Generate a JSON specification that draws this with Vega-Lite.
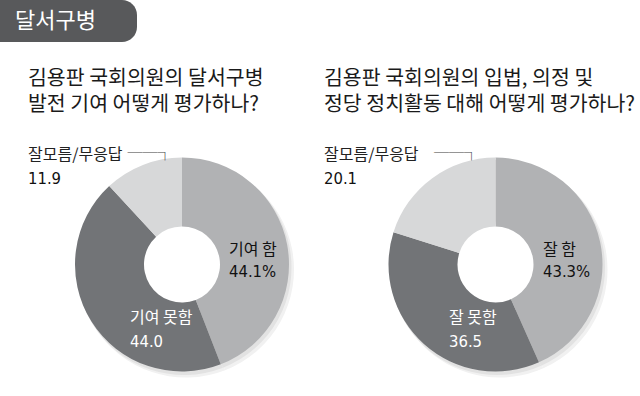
{
  "$schema": "https://vega.github.io/schema/vega-lite/v6.json",
  "padding": 0,
  "background": "white",
  "bounds": "flush",
  "spacing": 91,
  "config": {"view": {"stroke": null}, "font": "Noto Sans CJK KR"},
  "datasets": {
    "left": [
      {"cat": "기여 함", "value": 44.1, "order": 1, "valueText": "44.1%"},
      {"cat": "기여 못함", "value": 44.0, "order": 2, "valueText": "44.0"},
      {"cat": "잘모름/무응답", "value": 11.9, "order": 3, "valueText": "11.9"}
    ],
    "right": [
      {"cat": "잘 함", "value": 43.3, "order": 1, "valueText": "43.3%"},
      {"cat": "잘 못함", "value": 36.5, "order": 2, "valueText": "36.5"},
      {"cat": "잘모름/무응답", "value": 20.1, "order": 3, "valueText": "20.1"}
    ],
    "header": [{"t": "달서구병"}]
  },
  "vconcat": [
    {
      "width": 137,
      "height": 42,
      "data": {"name": "header"},
      "layer": [
        {
          "mark": {"type": "rect", "color": "#58595b", "cornerRadiusTopRight": 15, "cornerRadiusBottomRight": 15},
          "encoding": {
            "x": {"value": 0},
            "x2": {"value": "width"},
            "y": {"value": 0},
            "y2": {"value": "height"}
          }
        },
        {
          "mark": {"type": "text", "align": "left", "baseline": "middle", "dx": -53.5, "dy": 0, "fontSize": 22, "color": "white", "font": "Noto Sans CJK KR"},
          "encoding": {"text": {"field": "t"}}
        }
      ]
    },
    {
      "bounds": "flush",
      "spacing": 0,
      "hconcat": [
        {
          "width": 364,
          "height": 263,
          "data": {"name": "left"},
          "title": {"text": ["김용판 국회의원의 달서구병", "발전 기여 어떻게 평가하나?"], "anchor": "start", "frame": "group", "dx": 28, "offset": -2, "fontSize": 20.5, "lineHeight": 26, "baseline": "bottom", "color": "#1a1a1a", "font": "Noto Sans CJK KR", "fontWeight": "normal"},
          "layer": [
            {
              "mark": {"type": "arc", "outerRadius": 108, "innerRadius": 46, "xOffset": 4, "yOffset": 5, "color": "#f1f1f1"},
              "encoding": {"theta": {"field": "value", "type": "quantitative", "stack": true}, "order": {"field": "order", "type": "quantitative"}}
            },
            {
              "mark": {"type": "arc", "outerRadius": 107.5, "innerRadius": 46, "xOffset": 2, "yOffset": 3, "color": "#e2e2e2"},
              "encoding": {"theta": {"field": "value", "type": "quantitative", "stack": true}, "order": {"field": "order", "type": "quantitative"}}
            },
            {
              "mark": {"type": "arc", "outerRadius": 107, "innerRadius": 38},
              "encoding": {
                "theta": {"field": "value", "type": "quantitative", "stack": true},
                "order": {"field": "order", "type": "quantitative"},
                "color": {"field": "order", "type": "nominal", "scale": {"domain": [1, 2, 3], "range": ["#b1b2b4", "#727477", "#d7d8d9"]}, "legend": null}
              }
            },
            {
              "transform": [{"filter": "datum.order === 1"}],
              "layer": [
                {"mark": {"type": "text", "dx": 47, "dy": -14.5, "align": "left", "baseline": "middle", "fontSize": 16, "color": "#111111", "font": "Noto Sans CJK KR"}, "encoding": {"text": {"field": "cat"}}},
                {"mark": {"type": "text", "dx": 47, "dy": 7, "align": "left", "baseline": "middle", "fontSize": 16.5, "color": "#111111", "font": "DejaVu Sans Condensed, Roboto"}, "encoding": {"text": {"field": "valueText"}}}
              ]
            },
            {
              "transform": [{"filter": "datum.order === 2"}],
              "layer": [
                {"mark": {"type": "text", "dx": -52, "dy": 53.5, "align": "left", "baseline": "middle", "fontSize": 16, "color": "white", "font": "Noto Sans CJK KR"}, "encoding": {"text": {"field": "cat"}}},
                {"mark": {"type": "text", "dx": -52, "dy": 77, "align": "left", "baseline": "middle", "fontSize": 16.5, "color": "white", "font": "DejaVu Sans Condensed, Roboto"}, "encoding": {"text": {"field": "valueText"}}}
              ]
            },
            {
              "transform": [{"filter": "datum.order === 3"}],
              "layer": [
                {"mark": {"type": "text", "dx": -154, "dy": -109.5, "align": "left", "baseline": "middle", "fontSize": 16, "color": "#222222", "font": "Noto Sans CJK KR"}, "encoding": {"text": {"field": "cat"}}},
                {"mark": {"type": "text", "dx": -54.5, "dy": -112, "align": "left", "baseline": "middle", "fontSize": 15, "color": "#444444", "font": "Noto Sans CJK KR", "text": "──┐"}, "encoding": {}},
                {"mark": {"type": "text", "dx": -154, "dy": -86, "align": "left", "baseline": "middle", "fontSize": 16.5, "color": "#111111", "font": "DejaVu Sans Condensed, Roboto"}, "encoding": {"text": {"field": "valueText"}}}
              ]
            }
          ]
        },
        {
          "width": 263,
          "height": 263,
          "data": {"name": "right"},
          "title": {"text": ["김용판 국회의원의 입법, 의정 및", "정당 정치활동 대해 어떻게 평가하나?"], "anchor": "start", "frame": "group", "dx": -40, "offset": -2, "fontSize": 20.5, "lineHeight": 26, "baseline": "bottom", "color": "#1a1a1a", "font": "Noto Sans CJK KR", "fontWeight": "normal"},
          "layer": [
            {
              "mark": {"type": "arc", "outerRadius": 108, "innerRadius": 46, "xOffset": 4, "yOffset": 5, "color": "#f1f1f1"},
              "encoding": {"theta": {"field": "value", "type": "quantitative", "stack": true}, "order": {"field": "order", "type": "quantitative"}}
            },
            {
              "mark": {"type": "arc", "outerRadius": 107.5, "innerRadius": 46, "xOffset": 2, "yOffset": 3, "color": "#e2e2e2"},
              "encoding": {"theta": {"field": "value", "type": "quantitative", "stack": true}, "order": {"field": "order", "type": "quantitative"}}
            },
            {
              "mark": {"type": "arc", "outerRadius": 107, "innerRadius": 38},
              "encoding": {
                "theta": {"field": "value", "type": "quantitative", "stack": true},
                "order": {"field": "order", "type": "quantitative"},
                "color": {"field": "order", "type": "nominal", "scale": {"domain": [1, 2, 3], "range": ["#b1b2b4", "#727477", "#d7d8d9"]}, "legend": null}
              }
            },
            {
              "transform": [{"filter": "datum.order === 1"}],
              "layer": [
                {"mark": {"type": "text", "dx": 47.5, "dy": -14.5, "align": "left", "baseline": "middle", "fontSize": 16, "color": "#111111", "font": "Noto Sans CJK KR"}, "encoding": {"text": {"field": "cat"}}},
                {"mark": {"type": "text", "dx": 47.5, "dy": 7, "align": "left", "baseline": "middle", "fontSize": 16.5, "color": "#111111", "font": "DejaVu Sans Condensed, Roboto"}, "encoding": {"text": {"field": "valueText"}}}
              ]
            },
            {
              "transform": [{"filter": "datum.order === 2"}],
              "layer": [
                {"mark": {"type": "text", "dx": -46.5, "dy": 53.5, "align": "left", "baseline": "middle", "fontSize": 16, "color": "white", "font": "Noto Sans CJK KR"}, "encoding": {"text": {"field": "cat"}}},
                {"mark": {"type": "text", "dx": -46.5, "dy": 77, "align": "left", "baseline": "middle", "fontSize": 16.5, "color": "white", "font": "DejaVu Sans Condensed, Roboto"}, "encoding": {"text": {"field": "valueText"}}}
              ]
            },
            {
              "transform": [{"filter": "datum.order === 3"}],
              "layer": [
                {"mark": {"type": "text", "dx": -171.5, "dy": -109.5, "align": "left", "baseline": "middle", "fontSize": 16, "color": "#222222", "font": "Noto Sans CJK KR"}, "encoding": {"text": {"field": "cat"}}},
                {"mark": {"type": "text", "dx": -61.5, "dy": -112, "align": "left", "baseline": "middle", "fontSize": 15, "color": "#444444", "font": "Noto Sans CJK KR", "text": "──┐"}, "encoding": {}},
                {"mark": {"type": "text", "dx": -171.5, "dy": -86, "align": "left", "baseline": "middle", "fontSize": 16.5, "color": "#111111", "font": "DejaVu Sans Condensed, Roboto"}, "encoding": {"text": {"field": "valueText"}}}
              ]
            }
          ]
        }
      ]
    }
  ]
}
